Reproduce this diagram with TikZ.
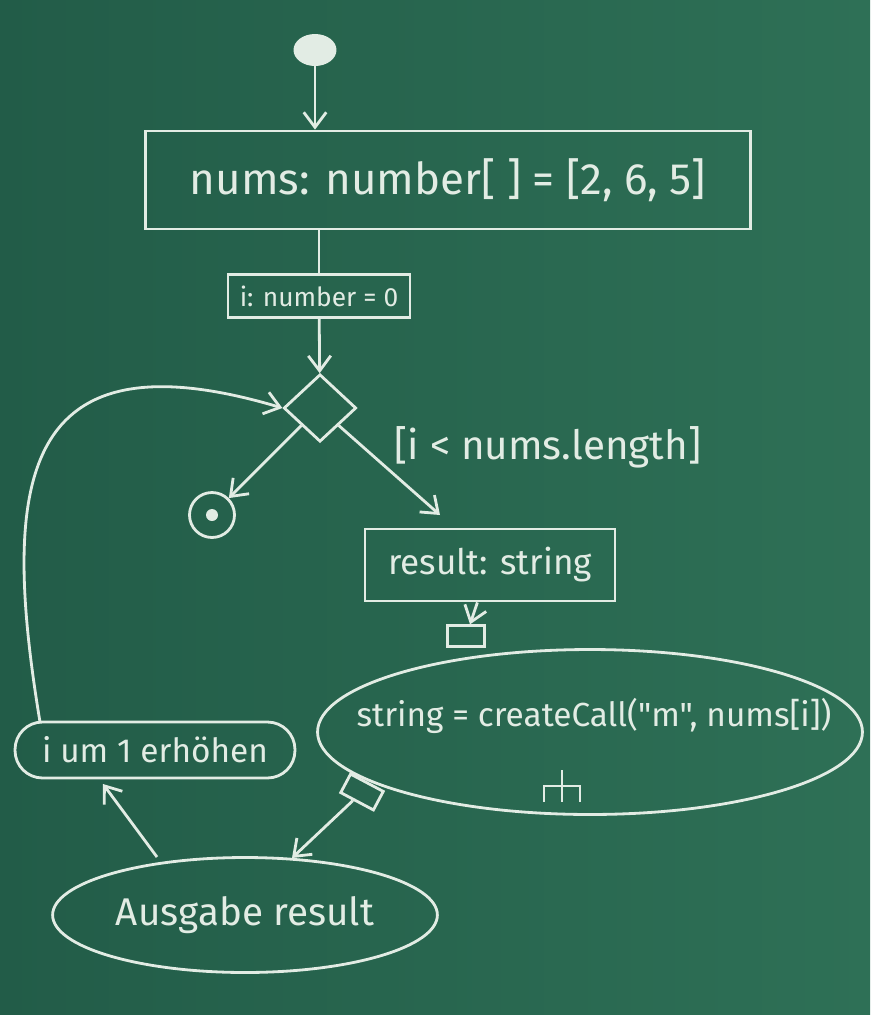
\documentclass[tikz,border=0pt]{standalone}
\usepackage{fontspec}
\defaultfontfeatures[\rmfamily]{}
\setmainfont{Fira Sans}
\usetikzlibrary{arrows.meta,positioning,shapes.geometric}
\definecolor{boardGreen}{RGB}{46,112,86}
\definecolor{boardDark}{RGB}{34,92,72}
\definecolor{chalk}{RGB}{226,236,228}

\begin{document}
\begin{tikzpicture}[
  x=0.02cm, y=-0.02cm,
  chalkline/.style={draw=chalk, line width=1.6pt},
  block/.style={chalkline, minimum height=0.86cm, align=center, text=chalk, inner sep=4pt},
  action/.style={block, rounded corners=0.55cm},
  oval/.style={block, ellipse},
  pin/.style={chalkline, minimum width=0.74cm, minimum height=0.42cm, inner sep=0pt},
  arrow/.style={chalkline, -{Straight Barb[length=3mm, width=4.5mm]}},
  guard/.style={text=chalk, font=\fontsize{23}{26}\selectfont}
]
  % board
  \shade[left color=boardDark, right color=boardGreen] (0,0) rectangle (870,1015);
  \useasboundingbox (0,0) rectangle (870,1015);

  % nodes
  \node[fill=chalk, ellipse, minimum width=0.86cm, minimum height=0.64cm, inner sep=0pt] (start) at (315,50) {};
  \node[block, minimum width=12.1cm, minimum height=1.96cm, font=\fontsize{25}{28}\selectfont] (nums) at (448,180) {nums: number[ ] = [2, 6, 5]};
  \node[block, minimum width=3.64cm, font=\fontsize{15}{18}\selectfont] (init) at (319,296) {i: number = 0};
  \node[chalkline, diamond, minimum width=1.45cm, minimum height=1.35cm, inner sep=0pt] (dec) at (320,408) {};
  \node[chalkline, circle, minimum size=0.9cm, inner sep=0pt] (final) at (212,515) {};
  \node[fill=chalk, circle, minimum size=0.24cm, inner sep=0pt] (finalDot) at (final) {};
  \node[guard] (cond) at (548,447) {[i < nums.length]};
  \node[block, minimum width=5cm, minimum height=1.44cm, font=\fontsize{20}{24}\selectfont] (result) at (490,565) {result: string};
  \node[oval, minimum width=10.9cm, minimum height=3.3cm] (call) at (590,732) {};
  \node[text=chalk, font=\fontsize{19}{22}\selectfont] (callText) at (594,716) {string = createCall("m", nums[i])};
  \node[pin, anchor=south] (pinIn) at (call.north -| 466,0) {};
  \node[pin, rotate=-28] (pinOut) at (362,792) {};
  \node[action, minimum width=5.6cm, minimum height=1.12cm, font=\fontsize{19}{22}\selectfont] (inc) at (155,750) {i um 1 erhöhen};
  \node[oval, minimum width=6.8cm, minimum height=2.3cm, font=\fontsize{22}{26}\selectfont] (out) at (245,915) {Ausgabe result};

  % connector ends
  \coordinate (resultIn) at (440,515);
  \coordinate (outIn) at (292,858);
  \coordinate (outOut) at (157,857);
  \coordinate (incIn) at (103,784);
  \coordinate (incOut) at (40,722);

  % call behavior rake
  \coordinate (rake) at (562,786);
  \draw[chalkline] (rake) ++(0,-16) -- ++(0,32);
  \draw[chalkline] (rake) ++(-18,16) -- ++(0,-16) -- ++(36,0) -- ++(0,16);

  % flows
  \draw[arrow] (start) -- (start |- nums.north);
  \draw[chalkline] (nums.south -| init) -- (init);
  \draw[arrow] (init) -- (dec);
  \draw[arrow] (dec.south west) -- (final);
  \draw[arrow] (dec.south east) -- (resultIn);
  \draw[arrow] (result) -- (pinIn);
  \draw[arrow] (pinOut) -- (outIn);
  \draw[arrow] (outOut) -- (incIn);
  \draw[arrow] (incOut) .. controls (0,480) and (20,330) .. (dec.west);
\end{tikzpicture}
\end{document}
